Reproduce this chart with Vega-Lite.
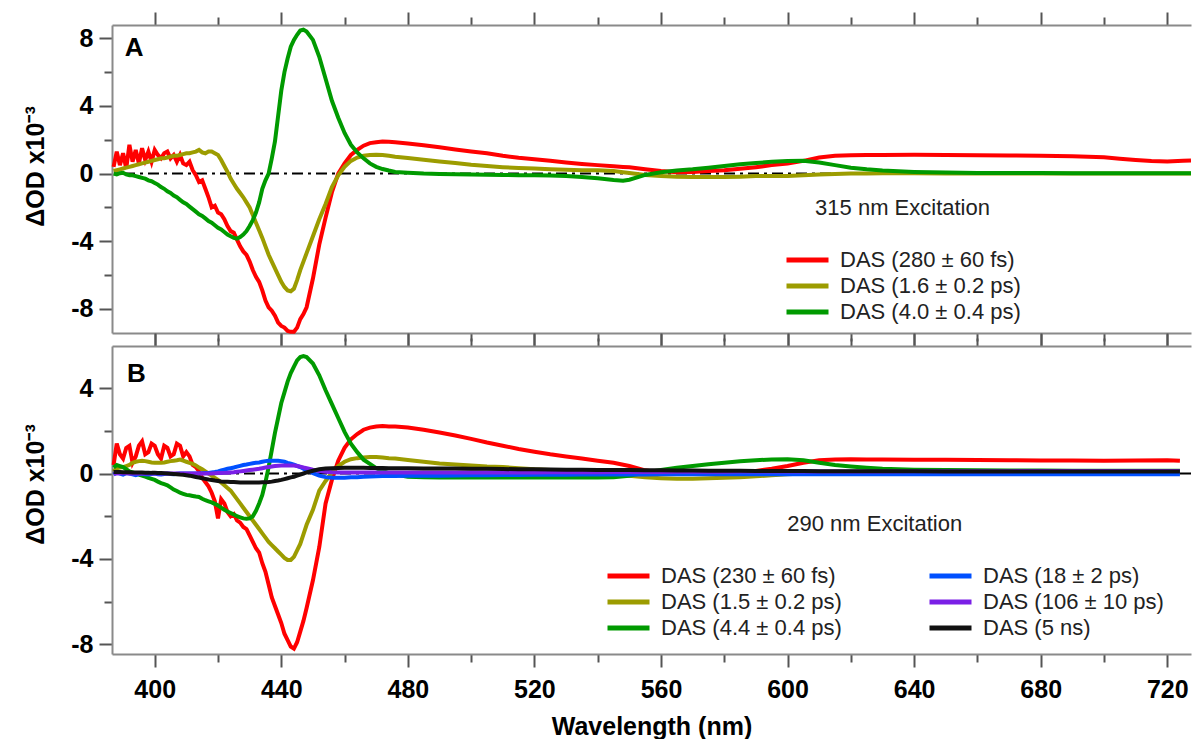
{
  "$schema": "https://vega.github.io/schema/vega-lite/v6.json",
  "background": "white",
  "padding": {"left": 23, "top": 11, "right": 0, "bottom": 0},
  "autosize": {"type": "pad"},
  "spacing": 13,
  "bounds": "flush",
  "config": {
    "view": {"stroke": null},
    "font": "Liberation Sans",
    "axis": {
      "domainColor": "#8a8a8a", "domainWidth": 2, "tickColor": "#555555", "tickWidth": 2,
      "labelFont": "Liberation Sans", "labelFontWeight": "bold", "labelFontSize": 25, "labelColor": "#000000",
      "titleFont": "Liberation Sans", "titleFontWeight": "bold", "titleFontSize": 25, "titleColor": "#000000",
      "grid": false, "labelOverlap": false, "labelFlush": false
    },
    "legend": {
      "orient": "none", "symbolType": "stroke", "symbolStrokeWidth": 5, "symbolSize": 1764,
      "labelFont": "Liberation Sans", "labelFontSize": 22, "labelColor": "#222222", "labelOffset": 9,
      "labelLimit": 400, "clipHeight": 20, "rowPadding": 4, "padding": 0
    }
  },
  "resolve": {"scale": {"color": "independent"}},
  "datasets": {
    "A": [
      {"w":387,"r":0.4,"o":0.15,"g":0.0},
      {"w":388,"r":1.3,"o":0.2,"g":-0.05},
      {"w":389,"r":0.5,"o":0.25,"g":0.02},
      {"w":390,"r":1.2,"o":0.3,"g":0.05},
      {"w":391,"r":0.3,"o":0.35,"g":-0.05},
      {"w":392,"r":1.7,"o":0.4,"g":-0.1},
      {"w":393,"r":0.7,"o":0.45,"g":-0.1},
      {"w":394,"r":1.4,"o":0.5,"g":-0.15},
      {"w":395,"r":0.6,"o":0.55,"g":-0.2},
      {"w":396,"r":1.5,"o":0.6,"g":-0.25},
      {"w":397,"r":0.8,"o":0.65,"g":-0.3},
      {"w":398,"r":1.3,"o":0.7,"g":-0.4},
      {"w":399,"r":0.7,"o":0.75,"g":-0.45},
      {"w":400,"r":1.4,"o":0.8,"g":-0.55},
      {"w":401,"r":1.1,"o":0.85,"g":-0.65},
      {"w":402,"r":0.9,"o":0.9,"g":-0.8},
      {"w":403,"r":1.2,"o":0.9,"g":-0.9},
      {"w":404,"r":1.3,"o":0.95,"g":-1.05},
      {"w":405,"r":0.9,"o":1.0,"g":-1.15},
      {"w":406,"r":1.1,"o":1.05,"g":-1.3},
      {"w":407,"r":0.7,"o":1.05,"g":-1.4},
      {"w":408,"r":1.1,"o":1.1,"g":-1.55},
      {"w":409,"r":0.6,"o":1.15,"g":-1.7},
      {"w":410,"r":0.5,"o":1.2,"g":-1.8},
      {"w":411,"r":0.7,"o":1.2,"g":-1.95},
      {"w":412,"r":0.2,"o":1.25,"g":-2.1},
      {"w":413,"r":-0.1,"o":1.3,"g":-2.25},
      {"w":414,"r":-0.5,"o":1.4,"g":-2.4},
      {"w":415,"r":-0.4,"o":1.25,"g":-2.5},
      {"w":416,"r":-0.9,"o":1.2,"g":-2.65},
      {"w":417,"r":-1.4,"o":1.3,"g":-2.8},
      {"w":418,"r":-2.0,"o":1.3,"g":-2.9},
      {"w":419,"r":-1.9,"o":1.2,"g":-3.05},
      {"w":420,"r":-2.3,"o":1.1,"g":-3.2},
      {"w":421,"r":-2.4,"o":0.8,"g":-3.3},
      {"w":422,"r":-2.7,"o":0.45,"g":-3.45},
      {"w":423,"r":-3.1,"o":0.1,"g":-3.6},
      {"w":424,"r":-3.4,"o":-0.3,"g":-3.7},
      {"w":425,"r":-3.5,"o":-0.6,"g":-3.8},
      {"w":426,"r":-3.9,"o":-0.9,"g":-3.85},
      {"w":427,"r":-4.3,"o":-1.15,"g":-3.75},
      {"w":428,"r":-4.6,"o":-1.4,"g":-3.6},
      {"w":429,"r":-4.8,"o":-1.7,"g":-3.4},
      {"w":430,"r":-5.2,"o":-2.0,"g":-3.1},
      {"w":431,"r":-5.7,"o":-2.45,"g":-2.75},
      {"w":432,"r":-6.1,"o":-2.9,"g":-2.3},
      {"w":433,"r":-6.4,"o":-3.35,"g":-1.7},
      {"w":434,"r":-6.9,"o":-3.8,"g":-0.9},
      {"w":435,"r":-7.5,"o":-4.3,"g":-0.4},
      {"w":436,"r":-7.9,"o":-4.8,"g":0.0},
      {"w":437,"r":-8.1,"o":-5.2,"g":0.9},
      {"w":438,"r":-8.4,"o":-5.6,"g":1.9},
      {"w":439,"r":-8.8,"o":-6.0,"g":3.4},
      {"w":440,"r":-9.0,"o":-6.4,"g":4.9},
      {"w":441,"r":-9.1,"o":-6.7,"g":6.0},
      {"w":442,"r":-9.3,"o":-6.9,"g":6.8},
      {"w":443,"r":-9.35,"o":-6.95,"g":7.5},
      {"w":444,"r":-9.35,"o":-6.8,"g":7.9},
      {"w":445,"r":-9.1,"o":-6.3,"g":8.2},
      {"w":446,"r":-8.6,"o":-5.7,"g":8.45},
      {"w":447,"r":-8.3,"o":-5.2,"g":8.5},
      {"w":448,"r":-7.9,"o":-4.7,"g":8.4},
      {"w":450,"r":-6.2,"o":-3.7,"g":7.9},
      {"w":452,"r":-4.2,"o":-2.7,"g":6.9},
      {"w":454,"r":-2.6,"o":-1.8,"g":5.6},
      {"w":456,"r":-1.1,"o":-0.8,"g":4.3},
      {"w":458,"r":0.0,"o":-0.1,"g":3.3},
      {"w":460,"r":0.6,"o":0.4,"g":2.4},
      {"w":462,"r":1.1,"o":0.75,"g":1.7},
      {"w":464,"r":1.4,"o":0.95,"g":1.25},
      {"w":466,"r":1.65,"o":1.05,"g":0.9},
      {"w":468,"r":1.8,"o":1.1,"g":0.6},
      {"w":470,"r":1.85,"o":1.12,"g":0.4},
      {"w":472,"r":1.9,"o":1.1,"g":0.27},
      {"w":474,"r":1.88,"o":1.05,"g":0.18},
      {"w":476,"r":1.85,"o":1.0,"g":0.1},
      {"w":480,"r":1.78,"o":0.92,"g":0.05},
      {"w":485,"r":1.68,"o":0.82,"g":0.0},
      {"w":490,"r":1.55,"o":0.72,"g":-0.02},
      {"w":495,"r":1.42,"o":0.62,"g":-0.04},
      {"w":500,"r":1.3,"o":0.52,"g":-0.05},
      {"w":505,"r":1.2,"o":0.45,"g":-0.07},
      {"w":510,"r":1.05,"o":0.38,"g":-0.08},
      {"w":515,"r":0.93,"o":0.33,"g":-0.1},
      {"w":520,"r":0.85,"o":0.3,"g":-0.1},
      {"w":525,"r":0.76,"o":0.26,"g":-0.12},
      {"w":530,"r":0.66,"o":0.22,"g":-0.15},
      {"w":535,"r":0.57,"o":0.2,"g":-0.2},
      {"w":540,"r":0.5,"o":0.19,"g":-0.28},
      {"w":545,"r":0.43,"o":0.15,"g":-0.38},
      {"w":548,"r":0.39,"o":0.08,"g":-0.42},
      {"w":550,"r":0.37,"o":0.04,"g":-0.36},
      {"w":555,"r":0.25,"o":-0.08,"g":-0.08},
      {"w":560,"r":0.15,"o":-0.15,"g":0.08},
      {"w":565,"r":0.08,"o":-0.18,"g":0.18},
      {"w":570,"r":0.1,"o":-0.2,"g":0.25},
      {"w":575,"r":0.15,"o":-0.2,"g":0.35},
      {"w":580,"r":0.2,"o":-0.2,"g":0.45},
      {"w":585,"r":0.28,"o":-0.18,"g":0.55},
      {"w":590,"r":0.38,"o":-0.15,"g":0.62},
      {"w":595,"r":0.5,"o":-0.15,"g":0.7},
      {"w":600,"r":0.6,"o":-0.14,"g":0.74},
      {"w":605,"r":0.75,"o":-0.1,"g":0.76},
      {"w":610,"r":0.95,"o":-0.06,"g":0.65},
      {"w":615,"r":1.05,"o":-0.02,"g":0.5},
      {"w":620,"r":1.08,"o":0.0,"g":0.35},
      {"w":625,"r":1.1,"o":0.01,"g":0.25},
      {"w":630,"r":1.1,"o":0.02,"g":0.18},
      {"w":640,"r":1.12,"o":0.02,"g":0.1},
      {"w":650,"r":1.1,"o":0.01,"g":0.06},
      {"w":660,"r":1.08,"o":0.01,"g":0.04},
      {"w":670,"r":1.07,"o":0.01,"g":0.03},
      {"w":680,"r":1.06,"o":0.01,"g":0.03},
      {"w":690,"r":1.03,"o":0.01,"g":0.02},
      {"w":700,"r":0.96,"o":0.01,"g":0.02},
      {"w":705,"r":0.88,"o":0.0,"g":0.02},
      {"w":710,"r":0.8,"o":0.0,"g":0.02},
      {"w":715,"r":0.74,"o":0.0,"g":0.02},
      {"w":720,"r":0.72,"o":0.0,"g":0.02},
      {"w":725,"r":0.76,"o":0.0,"g":0.02},
      {"w":727.5,"r":0.78,"o":0.0,"g":0.02}
    ],
    "B": [
      {"w":387,"r":0.4,"o":0.1,"g":0.28,"b":-0.05,"p":0.0,"k":0.07},
      {"w":388,"r":1.4,"o":0.25,"g":0.4,"b":0.05,"p":0.0,"k":0.07},
      {"w":389,"r":0.9,"o":0.28,"g":0.35,"b":0.0,"p":0.01,"k":0.07},
      {"w":390,"r":0.7,"o":0.3,"g":0.3,"b":-0.05,"p":0.02,"k":0.06},
      {"w":391,"r":1.2,"o":0.35,"g":0.2,"b":0.02,"p":0.01,"k":0.06},
      {"w":392,"r":1.3,"o":0.4,"g":0.1,"b":0.0,"p":0.0,"k":0.06},
      {"w":393,"r":0.5,"o":0.5,"g":0.05,"b":-0.04,"p":0.0,"k":0.05},
      {"w":394,"r":0.8,"o":0.55,"g":0.0,"b":-0.08,"p":0.0,"k":0.05},
      {"w":395,"r":1.3,"o":0.58,"g":-0.05,"b":-0.03,"p":0.0,"k":0.05},
      {"w":396,"r":1.5,"o":0.6,"g":-0.1,"b":0.0,"p":0.0,"k":0.05},
      {"w":397,"r":0.9,"o":0.58,"g":-0.15,"b":-0.03,"p":0.0,"k":0.04},
      {"w":398,"r":1.0,"o":0.55,"g":-0.2,"b":-0.05,"p":0.0,"k":0.04},
      {"w":399,"r":1.4,"o":0.52,"g":-0.25,"b":-0.02,"p":0.0,"k":0.03},
      {"w":400,"r":1.3,"o":0.5,"g":-0.3,"b":0.0,"p":0.0,"k":0.03},
      {"w":401,"r":0.9,"o":0.5,"g":-0.38,"b":-0.03,"p":0.0,"k":0.02},
      {"w":402,"r":0.7,"o":0.5,"g":-0.45,"b":-0.05,"p":0.0,"k":0.02},
      {"w":403,"r":1.3,"o":0.52,"g":-0.5,"b":-0.02,"p":0.0,"k":0.01},
      {"w":404,"r":1.2,"o":0.55,"g":-0.55,"b":0.0,"p":0.0,"k":0.0},
      {"w":405,"r":0.8,"o":0.58,"g":-0.65,"b":-0.02,"p":0.0,"k":-0.01},
      {"w":406,"r":0.9,"o":0.6,"g":-0.75,"b":-0.03,"p":0.0,"k":-0.02},
      {"w":407,"r":1.4,"o":0.62,"g":-0.82,"b":-0.01,"p":0.0,"k":-0.03},
      {"w":408,"r":1.3,"o":0.65,"g":-0.9,"b":0.0,"p":0.0,"k":-0.05},
      {"w":409,"r":0.8,"o":0.6,"g":-0.95,"b":0.0,"p":0.0,"k":-0.06},
      {"w":410,"r":1.0,"o":0.55,"g":-1.0,"b":0.0,"p":0.0,"k":-0.08},
      {"w":411,"r":0.8,"o":0.5,"g":-1.02,"b":0.0,"p":0.0,"k":-0.1},
      {"w":412,"r":0.4,"o":0.45,"g":-1.05,"b":0.0,"p":0.0,"k":-0.13},
      {"w":413,"r":0.3,"o":0.38,"g":-1.08,"b":0.0,"p":0.0,"k":-0.16},
      {"w":414,"r":0.1,"o":0.28,"g":-1.1,"b":0.0,"p":0.0,"k":-0.19},
      {"w":415,"r":-0.2,"o":0.2,"g":-1.18,"b":0.01,"p":0.0,"k":-0.22},
      {"w":416,"r":-0.4,"o":0.1,"g":-1.25,"b":0.02,"p":0.0,"k":-0.25},
      {"w":417,"r":-0.6,"o":0.0,"g":-1.3,"b":0.03,"p":0.0,"k":-0.28},
      {"w":418,"r":-0.9,"o":-0.1,"g":-1.35,"b":0.05,"p":0.0,"k":-0.3},
      {"w":419,"r":-1.3,"o":-0.2,"g":-1.42,"b":0.07,"p":0.01,"k":-0.33},
      {"w":420,"r":-2.1,"o":-0.3,"g":-1.5,"b":0.1,"p":0.02,"k":-0.35},
      {"w":421,"r":-1.2,"o":-0.42,"g":-1.6,"b":0.14,"p":0.02,"k":-0.37},
      {"w":422,"r":-1.4,"o":-0.55,"g":-1.7,"b":0.18,"p":0.03,"k":-0.38},
      {"w":423,"r":-1.8,"o":-0.68,"g":-1.78,"b":0.22,"p":0.04,"k":-0.39},
      {"w":424,"r":-2.0,"o":-0.8,"g":-1.85,"b":0.25,"p":0.05,"k":-0.4},
      {"w":425,"r":-1.9,"o":-1.0,"g":-1.92,"b":0.28,"p":0.06,"k":-0.4},
      {"w":426,"r":-2.2,"o":-1.2,"g":-2.0,"b":0.32,"p":0.08,"k":-0.41},
      {"w":427,"r":-2.3,"o":-1.4,"g":-2.05,"b":0.36,"p":0.1,"k":-0.42},
      {"w":428,"r":-2.5,"o":-1.6,"g":-2.1,"b":0.4,"p":0.12,"k":-0.42},
      {"w":429,"r":-2.6,"o":-1.8,"g":-2.12,"b":0.42,"p":0.14,"k":-0.42},
      {"w":430,"r":-2.9,"o":-2.0,"g":-2.1,"b":0.45,"p":0.16,"k":-0.42},
      {"w":431,"r":-3.2,"o":-2.2,"g":-2.0,"b":0.48,"p":0.18,"k":-0.42},
      {"w":432,"r":-3.5,"o":-2.4,"g":-1.75,"b":0.5,"p":0.2,"k":-0.42},
      {"w":433,"r":-3.7,"o":-2.6,"g":-1.4,"b":0.52,"p":0.22,"k":-0.42},
      {"w":434,"r":-4.2,"o":-2.8,"g":-1.0,"b":0.55,"p":0.25,"k":-0.41},
      {"w":435,"r":-4.6,"o":-3.0,"g":-0.4,"b":0.58,"p":0.28,"k":-0.41},
      {"w":436,"r":-5.2,"o":-3.2,"g":0.3,"b":0.6,"p":0.3,"k":-0.4},
      {"w":437,"r":-5.8,"o":-3.35,"g":1.1,"b":0.6,"p":0.33,"k":-0.38},
      {"w":438,"r":-6.2,"o":-3.5,"g":1.9,"b":0.6,"p":0.35,"k":-0.35},
      {"w":439,"r":-6.6,"o":-3.65,"g":2.6,"b":0.6,"p":0.36,"k":-0.33},
      {"w":440,"r":-7.0,"o":-3.8,"g":3.3,"b":0.58,"p":0.37,"k":-0.3},
      {"w":441,"r":-7.5,"o":-3.95,"g":3.8,"b":0.55,"p":0.38,"k":-0.26},
      {"w":442,"r":-7.8,"o":-4.05,"g":4.3,"b":0.5,"p":0.38,"k":-0.22},
      {"w":443,"r":-8.1,"o":-4.05,"g":4.7,"b":0.46,"p":0.38,"k":-0.18},
      {"w":444,"r":-8.2,"o":-3.9,"g":5.0,"b":0.42,"p":0.37,"k":-0.15},
      {"w":445,"r":-7.9,"o":-3.6,"g":5.3,"b":0.36,"p":0.35,"k":-0.1},
      {"w":446,"r":-7.4,"o":-3.3,"g":5.45,"b":0.3,"p":0.32,"k":-0.05},
      {"w":447,"r":-6.9,"o":-2.85,"g":5.5,"b":0.22,"p":0.28,"k":0.0},
      {"w":448,"r":-6.3,"o":-2.4,"g":5.45,"b":0.15,"p":0.25,"k":0.05},
      {"w":450,"r":-5.0,"o":-1.7,"g":5.15,"b":0.02,"p":0.18,"k":0.13},
      {"w":452,"r":-3.45,"o":-0.8,"g":4.6,"b":-0.1,"p":0.12,"k":0.2},
      {"w":454,"r":-1.4,"o":-0.35,"g":3.9,"b":-0.17,"p":0.08,"k":0.23},
      {"w":456,"r":-0.3,"o":0.05,"g":3.25,"b":-0.2,"p":0.06,"k":0.25},
      {"w":458,"r":0.6,"o":0.35,"g":2.6,"b":-0.2,"p":0.05,"k":0.26},
      {"w":460,"r":1.2,"o":0.55,"g":1.95,"b":-0.2,"p":0.05,"k":0.27},
      {"w":462,"r":1.6,"o":0.67,"g":1.4,"b":-0.18,"p":0.05,"k":0.27},
      {"w":464,"r":1.85,"o":0.72,"g":1.0,"b":-0.17,"p":0.05,"k":0.27},
      {"w":466,"r":2.05,"o":0.75,"g":0.65,"b":-0.15,"p":0.05,"k":0.27},
      {"w":468,"r":2.15,"o":0.77,"g":0.45,"b":-0.14,"p":0.05,"k":0.26},
      {"w":470,"r":2.2,"o":0.77,"g":0.25,"b":-0.13,"p":0.05,"k":0.26},
      {"w":472,"r":2.22,"o":0.75,"g":0.12,"b":-0.12,"p":0.05,"k":0.26},
      {"w":474,"r":2.2,"o":0.72,"g":0.02,"b":-0.12,"p":0.05,"k":0.25},
      {"w":476,"r":2.2,"o":0.7,"g":-0.05,"b":-0.12,"p":0.05,"k":0.25},
      {"w":480,"r":2.15,"o":0.63,"g":-0.15,"b":-0.11,"p":0.05,"k":0.25},
      {"w":485,"r":2.05,"o":0.55,"g":-0.18,"b":-0.1,"p":0.05,"k":0.24},
      {"w":490,"r":1.92,"o":0.47,"g":-0.19,"b":-0.1,"p":0.05,"k":0.24},
      {"w":495,"r":1.78,"o":0.42,"g":-0.19,"b":-0.09,"p":0.05,"k":0.23},
      {"w":500,"r":1.62,"o":0.38,"g":-0.19,"b":-0.08,"p":0.05,"k":0.22},
      {"w":505,"r":1.45,"o":0.33,"g":-0.19,"b":-0.08,"p":0.05,"k":0.22},
      {"w":510,"r":1.3,"o":0.3,"g":-0.19,"b":-0.07,"p":0.05,"k":0.21},
      {"w":515,"r":1.15,"o":0.25,"g":-0.19,"b":-0.07,"p":0.05,"k":0.2},
      {"w":520,"r":1.02,"o":0.2,"g":-0.19,"b":-0.06,"p":0.05,"k":0.2},
      {"w":525,"r":0.9,"o":0.17,"g":-0.19,"b":-0.06,"p":0.06,"k":0.19},
      {"w":530,"r":0.8,"o":0.13,"g":-0.19,"b":-0.06,"p":0.06,"k":0.18},
      {"w":535,"r":0.7,"o":0.1,"g":-0.19,"b":-0.05,"p":0.06,"k":0.18},
      {"w":540,"r":0.6,"o":0.05,"g":-0.19,"b":-0.05,"p":0.06,"k":0.17},
      {"w":545,"r":0.5,"o":0.0,"g":-0.17,"b":-0.05,"p":0.07,"k":0.17},
      {"w":550,"r":0.35,"o":-0.1,"g":-0.1,"b":-0.05,"p":0.07,"k":0.16},
      {"w":555,"r":0.15,"o":-0.18,"g":0.05,"b":-0.05,"p":0.07,"k":0.15},
      {"w":560,"r":0.02,"o":-0.22,"g":0.17,"b":-0.04,"p":0.07,"k":0.15},
      {"w":565,"r":0.0,"o":-0.25,"g":0.27,"b":-0.04,"p":0.08,"k":0.14},
      {"w":570,"r":0.0,"o":-0.25,"g":0.35,"b":-0.04,"p":0.08,"k":0.14},
      {"w":575,"r":0.0,"o":-0.22,"g":0.43,"b":-0.04,"p":0.08,"k":0.13},
      {"w":580,"r":0.0,"o":-0.2,"g":0.5,"b":-0.04,"p":0.08,"k":0.13},
      {"w":585,"r":0.05,"o":-0.18,"g":0.57,"b":-0.04,"p":0.09,"k":0.13},
      {"w":590,"r":0.12,"o":-0.13,"g":0.62,"b":-0.03,"p":0.09,"k":0.12},
      {"w":595,"r":0.22,"o":-0.08,"g":0.66,"b":-0.03,"p":0.09,"k":0.12},
      {"w":600,"r":0.35,"o":-0.03,"g":0.67,"b":-0.03,"p":0.09,"k":0.12},
      {"w":605,"r":0.5,"o":0.0,"g":0.62,"b":-0.03,"p":0.1,"k":0.12},
      {"w":610,"r":0.62,"o":0.01,"g":0.5,"b":-0.03,"p":0.1,"k":0.11},
      {"w":615,"r":0.66,"o":0.02,"g":0.4,"b":-0.03,"p":0.1,"k":0.11},
      {"w":620,"r":0.67,"o":0.02,"g":0.33,"b":-0.03,"p":0.1,"k":0.11},
      {"w":625,"r":0.66,"o":0.02,"g":0.27,"b":-0.03,"p":0.1,"k":0.11},
      {"w":630,"r":0.66,"o":0.02,"g":0.22,"b":-0.03,"p":0.1,"k":0.11},
      {"w":640,"r":0.65,"o":0.02,"g":0.18,"b":-0.03,"p":0.11,"k":0.11},
      {"w":650,"r":0.64,"o":0.02,"g":0.16,"b":-0.03,"p":0.11,"k":0.1},
      {"w":660,"r":0.63,"o":0.02,"g":0.15,"b":-0.03,"p":0.11,"k":0.1},
      {"w":670,"r":0.62,"o":0.02,"g":0.14,"b":-0.03,"p":0.11,"k":0.1},
      {"w":680,"r":0.61,"o":0.02,"g":0.14,"b":-0.03,"p":0.12,"k":0.1},
      {"w":690,"r":0.61,"o":0.02,"g":0.13,"b":-0.03,"p":0.12,"k":0.1},
      {"w":700,"r":0.6,"o":0.02,"g":0.13,"b":-0.03,"p":0.12,"k":0.1},
      {"w":710,"r":0.61,"o":0.02,"g":0.13,"b":-0.03,"p":0.12,"k":0.1},
      {"w":720,"r":0.62,"o":0.02,"g":0.13,"b":-0.03,"p":0.12,"k":0.1},
      {"w":724,"r":0.6,"o":0.02,"g":0.13,"b":-0.03,"p":0.12,"k":0.1}
    ]
  },
  "vconcat": [
    {
      "width": 1079,
      "height": 308,
      "data": {"name": "A"},
      "resolve": {"axis": {"x": "independent", "y": "independent"}},
      "layer": [
        {
          "data": {"values": [{}]},
          "mark": {"type": "rule", "color": "#000000", "strokeWidth": 2, "strokeDash": [11, 5, 3, 5]},
          "encoding": {"y": {"datum": 0, "type": "quantitative", "axis": null}}
        },
        {
          "transform": [{"fold": ["r", "o", "g"], "as": ["s", "v"]}],
          "mark": {"type": "line", "strokeWidth": 4},
          "encoding": {
            "x": {"field": "w", "type": "quantitative",
              "scale": {"domain": [386.5, 727.5], "nice": false, "zero": false},
              "axis": {"orient": "bottom", "values": [400,420,440,460,480,500,520,540,560,580,600,620,640,660,680,700,720],
                "labels": false, "title": null,
                "tickSize": {"condition": {"test": "datum.value % 40 === 0", "value": 13}, "value": 8}}},
            "y": {"field": "v", "type": "quantitative",
              "scale": {"domain": [-9.42, 8.78], "nice": false, "zero": false},
              "axis": {"orient": "left", "values": [-8,-6,-4,-2,0,2,4,6,8],
                "labelExpr": "datum.value % 4 === 0 ? '' + datum.value : ''",
                "tickSize": {"condition": {"test": "datum.value % 4 === 0", "value": 13}, "value": 8},
                "labelPadding": 6, "title": "ΔOD x10⁻³", "titlePadding": 22, "titleY": 141}},
            "color": {"field": "s", "type": "nominal",
              "scale": {"domain": ["r", "o", "g"], "range": ["#ff0000", "#9c9c00", "#009a00"]},
              "legend": {"title": null, "legendX": 672, "legendY": 225,
                "labelExpr": "{'r': 'DAS (280 ± 60 fs)', 'o': 'DAS (1.6 ± 0.2 ps)', 'g': 'DAS (4.0 ± 0.4 ps)'}[datum.label]"}}
          }
        },
        {
          "mark": {"type": "point", "opacity": 0},
          "encoding": {
            "x": {"field": "w", "type": "quantitative",
              "axis": {"orient": "top", "values": [400,420,440,460,480,500,520,540,560,580,600,620,640,660,680,700,720],
                "labels": false, "title": null,
                "tickSize": {"condition": {"test": "datum.value % 40 === 0", "value": 13}, "value": 8}}}
          }
        },
        {
          "data": {"values": [{"t": "315 nm Excitation"}]},
          "mark": {"type": "text", "align": "left", "baseline": "middle", "fontSize": 22, "color": "#222222", "font": "Liberation Sans"},
          "encoding": {
            "x": {"datum": 608.7, "type": "quantitative", "axis": null},
            "y": {"datum": -2.06, "type": "quantitative", "axis": null},
            "text": {"field": "t"}
          }
        },
        {
          "data": {"values": [{"t": "A"}]},
          "mark": {"type": "text", "align": "center", "baseline": "middle", "fontSize": 26, "fontWeight": "bold", "color": "#000000", "font": "Liberation Sans"},
          "encoding": {
            "x": {"datum": 393.5, "type": "quantitative", "axis": null},
            "y": {"datum": 7.4, "type": "quantitative", "axis": null},
            "text": {"field": "t"}
          }
        }
      ]
    },
    {
      "width": 1079,
      "height": 308,
      "data": {"name": "B"},
      "resolve": {"axis": {"x": "independent", "y": "independent"}, "scale": {"color": "independent"}},
      "layer": [
        {
          "data": {"values": [{}]},
          "mark": {"type": "rule", "color": "#000000", "strokeWidth": 2, "strokeDash": [11, 5, 3, 5]},
          "encoding": {"y": {"datum": 0, "type": "quantitative", "axis": null}}
        },
        {
          "transform": [{"fold": ["r", "o", "g"], "as": ["s", "v"]}],
          "mark": {"type": "line", "strokeWidth": 4},
          "encoding": {
            "x": {"field": "w", "type": "quantitative",
              "scale": {"domain": [386.5, 727.5], "nice": false, "zero": false},
              "axis": {"orient": "bottom", "values": [400,420,440,460,480,500,520,540,560,580,600,620,640,660,680,700,720],
                "labelExpr": "datum.value % 40 === 0 ? datum.label : ''",
                "tickSize": {"condition": {"test": "datum.value % 40 === 0", "value": 13}, "value": 8},
                "labelPadding": 10, "title": "Wavelength (nm)", "titlePadding": 12}},
            "y": {"field": "v", "type": "quantitative",
              "scale": {"domain": [-8.45, 5.97], "nice": false, "zero": false},
              "axis": {"orient": "left", "values": [-8,-6,-4,-2,0,2,4],
                "labelExpr": "datum.value % 4 === 0 ? '' + datum.value : ''",
                "tickSize": {"condition": {"test": "datum.value % 4 === 0", "value": 13}, "value": 8},
                "labelPadding": 6, "title": "ΔOD x10⁻³", "titlePadding": 22, "titleY": 138}},
            "color": {"field": "s", "type": "nominal",
              "scale": {"domain": ["r", "o", "g"], "range": ["#ff0000", "#9c9c00", "#009a00"]},
              "legend": {"title": null, "legendX": 493, "legendY": 220,
                "labelExpr": "{'r': 'DAS (230 ± 60 fs)', 'o': 'DAS (1.5 ± 0.2 ps)', 'g': 'DAS (4.4 ± 0.4 ps)'}[datum.label]"}}
          }
        },
        {
          "transform": [{"fold": ["b", "p", "k"], "as": ["s2", "v"]}],
          "mark": {"type": "line", "strokeWidth": 4},
          "encoding": {
            "x": {"field": "w", "type": "quantitative", "axis": null},
            "y": {"field": "v", "type": "quantitative", "axis": null},
            "color": {"field": "s2", "type": "nominal",
              "scale": {"domain": ["b", "p", "k"], "range": ["#0050ff", "#7a1fe6", "#111111"]},
              "legend": {"title": null, "legendX": 815, "legendY": 220,
                "labelExpr": "{'b': 'DAS (18 ± 2 ps)', 'p': 'DAS (106 ± 10 ps)', 'k': 'DAS (5 ns)'}[datum.label]"}}
          }
        },
        {
          "mark": {"type": "point", "opacity": 0},
          "encoding": {
            "x": {"field": "w", "type": "quantitative",
              "axis": {"orient": "top", "values": [400,420,440,460,480,500,520,540,560,580,600,620,640,660,680,700,720],
                "labels": false, "title": null,
                "tickSize": {"condition": {"test": "datum.value % 40 === 0", "value": 13}, "value": 8}}}
          }
        },
        {
          "data": {"values": [{"t": "290 nm Excitation"}]},
          "mark": {"type": "text", "align": "left", "baseline": "middle", "fontSize": 22, "color": "#222222", "font": "Liberation Sans"},
          "encoding": {
            "x": {"datum": 599.9, "type": "quantitative", "axis": null},
            "y": {"datum": -2.35, "type": "quantitative", "axis": null},
            "text": {"field": "t"}
          }
        },
        {
          "data": {"values": [{"t": "B"}]},
          "mark": {"type": "text", "align": "center", "baseline": "middle", "fontSize": 26, "fontWeight": "bold", "color": "#000000", "font": "Liberation Sans"},
          "encoding": {
            "x": {"datum": 394.2, "type": "quantitative", "axis": null},
            "y": {"datum": 4.68, "type": "quantitative", "axis": null},
            "text": {"field": "t"}
          }
        }
      ]
    }
  ]
}
